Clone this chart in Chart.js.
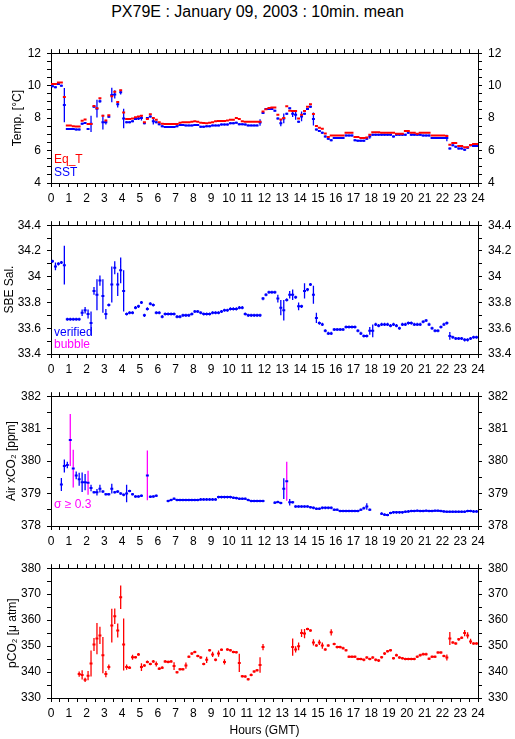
<!DOCTYPE html>
<html>
<head>
<meta charset="utf-8">
<script src="https://cdn.jsdelivr.net/npm/chart.js@4/dist/chart.umd.min.js"></script>
<style>
body { margin: 0; background: #fff; width: 515px; height: 739px; position: relative; overflow: hidden;
       font-family: "Liberation Sans", Arial, sans-serif; }
canvas { position: absolute; left: 0; }
.lab { position: absolute; font-size: 12px; line-height: 12px; white-space: nowrap; }
#title { position: absolute; left: 0; width: 515px; top: 4px; text-align: center; font-size: 16px; line-height: 16px; }
</style>
</head>
<body>
<div id="title">PX79E : January 09, 2003 : 10min. mean</div>
<canvas id="c1" width="515" height="172" style="top:40px"></canvas>
<canvas id="c2" width="515" height="171" style="top:212px"></canvas>
<canvas id="c3" width="515" height="172" style="top:383px"></canvas>
<canvas id="c4" width="515" height="184" style="top:555px"></canvas>
<div class="lab" style="left:54px;top:153px;color:#f00">Eq_T</div>
<div class="lab" style="left:54px;top:166px;color:#00f">SST</div>
<div class="lab" style="left:54px;top:326px;color:#00f">verified</div>
<div class="lab" style="left:54px;top:338px;color:#f0f">bubble</div>
<div class="lab" style="left:54px;top:498px;color:#f0f">σ ≥ 0.3</div>
<script>
// 10-minute means, one row per hour (6 bins), null = no data
const eqT = [
  10.1, 10.1, 10.2, 10.2, 9.3, 7.55,
  7.55, 7.5, 7.48, 7.48, 7.83, 7.92,
  7.63, 7.63, 8.75, 8.6, 9.23, 8.15,
  7.85, 8.17, 9.35, 9.62, 9.0, 9.72,
  8.35, 7.95, 7.95, 7.97, 8.05, 8.1,
  8.15, 7.75, 7.95, 8.23, 8.0, 7.9,
  7.75, 7.65, 7.63, 7.63, 7.63, 7.63,
  7.63, 7.72, 7.75, 7.75, 7.75, 7.78,
  7.8, 7.78, 7.72, 7.7, 7.68, 7.72,
  7.75, 7.8, 7.82, 7.82, 7.82, 7.85,
  7.9, 7.9, 8.0, 7.95, 7.8, 7.78,
  7.78, 7.78, 7.78, 7.78, 7.78, 8.4,
  8.55, 8.62, 8.65, 8.65, 8.2, 7.92,
  8.0, 8.73, 8.46, 8.43, 8.43, 7.98,
  8.2, 8.43, 8.7, 8.85, 8.25, 7.52,
  7.4, 7.35, 7.05, 6.83, 6.93, 6.93,
  6.93, 6.93, 6.93, 7.1, 7.1, 7.1,
  6.83, 6.83, 6.77, 6.77, 6.8, 6.97,
  7.13, 7.13, 7.13, 7.1, 7.1, 7.1,
  7.1, 7.1, 7.04, 7.04, 7.04, 7.2,
  7.2, 7.1, 7.1, 7.04, 7.1, 7.1,
  7.1, 7.1, 6.93, 6.93, 6.93, 6.93,
  6.93, 6.9, 6.36, 6.47, 6.47, 6.28,
  6.28, 6.2, 6.2, 6.34, 6.41, 6.41
];
const sst = [
  9.96, 9.9, 10.1, 10.0, 8.8, 7.33,
  7.33, 7.33, 7.3, 7.3, 7.65, 7.7,
  7.33, 7.65, 8.7, 8.58, 9.04, 7.75,
  7.75, 8.08, 9.42, 9.46, 8.85, 9.6,
  7.98, 7.75, 7.75, 7.8, 7.94, 7.98,
  8.0, 7.68, 8.0, 8.1, 7.8, 7.75,
  7.62, 7.5, 7.45, 7.45, 7.45, 7.45,
  7.5, 7.58, 7.58, 7.55, 7.55, 7.55,
  7.58, 7.58, 7.47, 7.47, 7.5, 7.5,
  7.55, 7.55, 7.55, 7.6, 7.6, 7.6,
  7.68, 7.68, 7.72, 7.62, 7.62, 7.6,
  7.55, 7.55, 7.55, 7.55, 7.73, 8.31,
  8.56, 8.56, 8.56, 8.46, 7.98, 7.69,
  7.98, 8.27, 8.6, 8.27, 8.2, 7.78,
  8.1, 8.27, 8.56, 8.7, 7.95, 7.29,
  7.2, 7.1, 6.87, 6.72, 6.63, 6.77,
  6.77, 6.77, 6.77, 6.93, 6.93, 6.93,
  6.64, 6.6, 6.6, 6.6, 6.72, 6.87,
  6.97, 6.97, 6.97, 6.97, 6.97, 6.97,
  6.97, 6.87, 6.97, 6.97, 6.97, 6.97,
  7.1, 6.97, 6.97, 6.97, 6.97, 6.93,
  6.93, 6.93, 6.77, 6.77, 6.77, 6.77,
  6.77, 6.77, 6.13, 6.32, 6.23, 6.13,
  6.13, 6.05, 6.17, 6.32, 6.28, 6.28
];
// [bin index, half error bar]
const sstErr = [[4, 1.05], [13, 0.5], [15, 0.55], [16, 0.1], [17, 0.45], [18, 0.15], [20, 0.45],
  [21, 0.25], [22, 0.2], [23, 0.15], [24, 0.6], [29, 0.1], [30, 0.15], [34, 0.2], [70, 0.2],
  [77, 0.2], [78, 0.3], [81, 0.2], [82, 0.3], [84, 0.3], [88, 0.4], [107, 0.15], [133, 0.2]];

const sal = [
  34.12, 34.08, 34.1, 34.11, 34.09, 33.67,
  33.67, 33.67, 33.67, 33.67, 33.72, 33.74,
  33.71, 33.64, 33.89, 33.86, 33.97, 33.85,
  33.71, 33.78, 33.94, 34.07, 33.94, 34.05,
  33.89, 33.71, 33.72, 33.72, 33.76, 33.77,
  33.8, 33.7, 33.75, 33.79, 33.78, 33.72,
  33.72, 33.69, 33.71, 33.71, 33.71, 33.71,
  33.69, 33.69, 33.7, 33.7, 33.7, 33.71,
  33.73, 33.73, 33.72, 33.71, 33.71, 33.71,
  33.72, 33.72, 33.72, 33.73, 33.74, 33.74,
  33.75, 33.75, 33.75, 33.76, 33.76, 33.71,
  33.7, 33.7, 33.7, 33.7, 33.7, 33.83,
  33.86, 33.88, 33.88, 33.88, 33.83, 33.76,
  33.74, 33.82, 33.86, 33.86, 33.84, 33.77,
  33.77, 33.89, 33.9, 33.94, 33.86, 33.68,
  33.64, 33.63, 33.58, 33.56, 33.56, 33.59,
  33.59, 33.59, 33.59, 33.61, 33.61, 33.61,
  33.61, 33.58, 33.56, 33.54, 33.54, 33.58,
  33.58, 33.63, 33.62, 33.63, 33.63, 33.63,
  33.62, 33.63, 33.62, 33.6, 33.63, 33.63,
  33.64, 33.64, 33.63, 33.63, 33.63, 33.65,
  33.66, 33.63, 33.6, 33.58, 33.58, 33.61,
  33.63, 33.64, 33.54, 33.53, 33.52, 33.52,
  33.52, 33.51, 33.51, 33.52, 33.53, 33.53
];
const salErr = [[1, 0.03], [4, 0.15], [10, 0.025], [11, 0.025], [12, 0.035], [13, 0.09], [14, 0.03],
  [15, 0.12], [16, 0.04], [17, 0.13], [18, 0.04], [20, 0.14], [21, 0.05], [22, 0.09], [23, 0.1],
  [24, 0.16], [76, 0.03], [77, 0.06], [78, 0.08], [80, 0.03], [81, 0.04], [83, 0.03], [85, 0.06],
  [88, 0.07], [89, 0.04], [107, 0.03], [108, 0.05], [134, 0.03]];

const xco2 = [
  null, null, null, 379.28, 379.85, 379.88,
  380.65, 379.77, 379.56, 379.44, 379.35, 379.35,
  379.33, 379.17, 379.04, 379.04, 379.15, 379.06,
  378.98, 378.98, 379.15, 379.04, 379.06, 379.0,
  378.96, 379.0, 379.08, 378.98, 378.91, 378.91,
  378.93, null, 379.56, 378.9, 378.91, 378.93,
  null, null, null, 378.77, 378.8, 378.84,
  378.8, 378.8, 378.8, 378.8, 378.8, 378.8,
  378.8, 378.8, 378.82, 378.82, 378.82, 378.82,
  378.82, 378.82, 378.89, 378.89, 378.89, 378.89,
  378.89, 378.87, 378.86, 378.84, 378.84, 378.84,
  378.8, 378.77, 378.77, 378.77, 378.77, 378.77,
  null, null, null, 378.72, 378.74, 378.71,
  379.15, 379.38, 378.73, 378.73, 378.6, 378.6,
  378.6, 378.6, 378.6, 378.58, 378.56, 378.53,
  378.53, 378.56, 378.56, 378.56, 378.56, 378.5,
  378.5, 378.46, 378.46, 378.46, 378.46, 378.46,
  378.46, 378.46, 378.5, 378.55, 378.6, 378.5,
  null, null, null, 378.38, 378.35, 378.34,
  378.4, 378.42, 378.42, 378.42, 378.42, 378.44,
  378.45, 378.46, 378.46, 378.47, 378.46, 378.46,
  378.47, 378.46, 378.46, 378.47, 378.47, 378.46,
  378.45, 378.44, 378.44, 378.44, 378.44, 378.44,
  378.44, 378.44, 378.46, 378.46, 378.45, 378.45
];
const xco2Err = [[3, 0.2], [4, 0.2], [5, 0.1], [8, 0.12], [9, 0.2], [10, 0.3], [11, 0.25], [13, 0.1],
  [15, 0.1], [16, 0.12], [20, 0.15], [25, 0.27], [78, 0.32], [80, 0.1], [106, 0.1]];
// sigma >= 0.3 (magenta)
const xco2Bubble = [[6, 0.8], [7, 0.58], [12, 0.37], [32, 0.77], [79, 0.6]];

const pco2 = [
  null, null, null, null, null, null,
  null, null, null, 339.2, 338.9, 337.0,
  338.6, 343.3, 350.6, 352.9, 354.1, 346.5,
  339.2, 341.9, 357.9, 361.5, 356.0, 368.8,
  350.6, 341.9, 341.7, 345.7, 345.7, 346.8,
  341.9, 342.5, 343.9, 343.1, 344.1, 343.1,
  341.3, 341.7, 344.1, 343.9, 344.1, 342.3,
  339.9, 341.1, 341.1, 342.5, 345.9, 347.1,
  347.7, 346.2, 345.6, 343.1, 344.7, 348.4,
  346.8, 344.7, 347.1, 348.6, 343.9, 348.7,
  348.4, 347.7, 347.6, 343.5, 338.4, 338.3,
  337.2, 338.9, 340.2, 340.7, 342.7, 349.6,
  null, null, null, null, null, null,
  null, null, null, 349.6, 348.7, 349.9,
  355.0, 354.8, 356.6, 356.0, 351.4, 350.2,
  351.4, 350.2, 348.7, 350.2, 355.3, 350.8,
  349.6, 349.6, 349.2, 348.4, 345.9, 345.9,
  345.9, 345.0, 345.0, 344.7, 345.6, 345.0,
  345.6, 344.7, 344.4, 345.7, 347.1, 348.0,
  348.4, 345.3, 346.5, 345.6, 345.3, 345.0,
  345.0, 345.0, 345.0, 345.9, 346.5, 346.9,
  346.9, 345.1, 345.9, 345.9, 347.5, 347.5,
  346.2, 345.6, 352.9, 351.4, 351.0, 352.6,
  353.2, 355.0, 354.1, 351.8, 351.0, 351.0
];
const pco2Err = [[9, 1.0], [10, 1.8], [11, 0.8], [12, 1.8], [13, 5], [14, 2.5], [15, 6], [16, 3.3],
  [17, 7], [18, 1.2], [19, 1], [20, 6.5], [21, 3], [22, 2.7], [23, 4.5], [24, 10], [25, 1], [27, 1],
  [30, 1.5], [35, 1], [41, 1.5], [45, 1.2], [52, 1.2], [54, 1], [56, 1.2], [58, 1], [63, 3.5],
  [70, 3], [71, 1.2], [81, 3.3], [82, 1.2], [83, 1.5], [84, 1.5], [85, 1.8], [88, 1.2], [90, 1],
  [91, 1.2], [94, 1.2], [133, 1.2], [134, 2.5], [139, 1.2], [140, 1.2], [141, 1]];

const hourTicks = [0, 24];

Chart.defaults.font.family = '"Liberation Sans", Arial, sans-serif';
Chart.defaults.font.size = 12;
Chart.defaults.color = '#000';

// horizontal 10 min segment for every bin
function steps(vals) {
  let pts = [];
  vals.forEach((v, i) => {
    if (v == null) return;
    pts.push({x: i / 6, y: v}, {x: (i + 1) / 6, y: v}, {x: (i + 1) / 6, y: null});
  });
  return pts;
}
// vertical bar in the middle of a bin
function bars(vals, errList, def, onlyList) {
  let errs = {};
  errList.forEach(e => errs[e[0]] = e[1]);
  let pts = [];
  vals.forEach((v, i) => {
    if (v == null) return;
    let e = errs[i] !== undefined ? errs[i] : def;
    if (onlyList) {
      let hit = onlyList.find(o => o[0] == i);
      if (!hit) return;
      e = hit[1];
    }
    let t = i / 6 + 1 / 12;
    pts.push({x: t, y: v - e}, {x: t, y: v + e}, {x: t, y: null});
  });
  return pts;
}
function skip(list) {
  return list.map(o => o[0]);
}

let stepSet = (data, color) => ({data: data, borderColor: color, borderWidth: 2, pointRadius: 0, borderCapStyle: 'butt'});
let barSet = (data, color) => ({data: data, borderColor: color, borderWidth: 1.3, pointRadius: 0, borderCapStyle: 'butt'});

function makePanel(id, p) {
  let fmt = v => String(+v.toFixed(2));
  let isMajor = v => Math.abs(v / p.major - Math.round(v / p.major)) < 1e-6;
  let yTicks = {stepSize: p.step, autoSkip: false, padding: 6, callback: v => isMajor(v) ? fmt(v) : ''};
  let grid = {drawOnChartArea: false, color: '#000', tickLength: 4};
  let border = {color: '#000', width: 1};
  return new Chart(document.getElementById(id), {
    type: 'line',
    data: {datasets: p.datasets},
    options: {
      responsive: false,
      animation: false,
      events: [],
      layout: {padding: 0},
      plugins: {legend: {display: false}, tooltip: {enabled: false}},
      scales: {
        x: {
          type: 'linear', position: 'bottom', min: hourTicks[0], max: hourTicks[1],
          ticks: {stepSize: 0.5, autoSkip: false, maxRotation: 0, padding: 4,
                  callback: v => Math.abs(v - Math.round(v)) < 1e-6 ? Math.round(v) : ''},
          grid: grid, border: border,
          title: p.xTitle ? {display: true, text: p.xTitle, padding: {top: 0, bottom: 1}} : {display: false},
          afterFit: s => { s.height = p.bottomH; }
        },
        xt: {
          type: 'linear', position: 'top', min: hourTicks[0], max: hourTicks[1],
          ticks: {stepSize: 0.5, autoSkip: false, display: false},
          grid: grid, border: border,
          afterFit: s => { s.height = 5; }
        },
        y: {
          position: 'left', min: p.min, max: p.max, ticks: yTicks, grid: grid, border: border,
          title: {display: true, text: p.yTitle, padding: {top: p.titlePad, bottom: 0}},
          afterFit: s => { s.width = 51; }
        },
        y2: {
          position: 'right', min: p.min, max: p.max, ticks: yTicks, grid: grid, border: border,
          afterFit: s => { s.width = 37; }
        }
      }
    }
  });
}

makePanel('c1', {
  min: 4, max: 12, step: 0.5, major: 2, yTitle: 'Temp. [°C]', titlePad: 10, bottomH: 29,
  datasets: [stepSet(steps(eqT), '#ff0000'), stepSet(steps(sst), '#0000ff'), barSet(bars(sst, sstErr, 0.06), '#0000ff')]
});
makePanel('c2', {
  min: 33.4, max: 34.4, step: 0.1, major: 0.2, yTitle: 'SBE Sal.', titlePad: 2, bottomH: 29,
  datasets: [stepSet(steps(sal), '#0000ff'), barSet(bars(sal, salErr, 0.012), '#0000ff')]
});
let blueXco2 = xco2.map((v, i) => skip(xco2Bubble).includes(i) ? null : v);
makePanel('c3', {
  min: 378, max: 382, step: 0.5, major: 1, yTitle: 'Air xCO₂ [ppm]', titlePad: 4, bottomH: 29,
  datasets: [stepSet(steps(xco2), '#0000ff'), barSet(bars(blueXco2, xco2Err, 0.04), '#0000ff'),
             barSet(bars(xco2, [], 0, xco2Bubble), '#ff00ff')]
});
makePanel('c4', {
  min: 330, max: 380, step: 5, major: 10, yTitle: 'pCO₂ [μ atm]', titlePad: 5, bottomH: 41, xTitle: 'Hours (GMT)',
  datasets: [stepSet(steps(pco2), '#ff0000'), barSet(bars(pco2, pco2Err, 0.5), '#ff0000')]
});
</script>
</body>
</html>
